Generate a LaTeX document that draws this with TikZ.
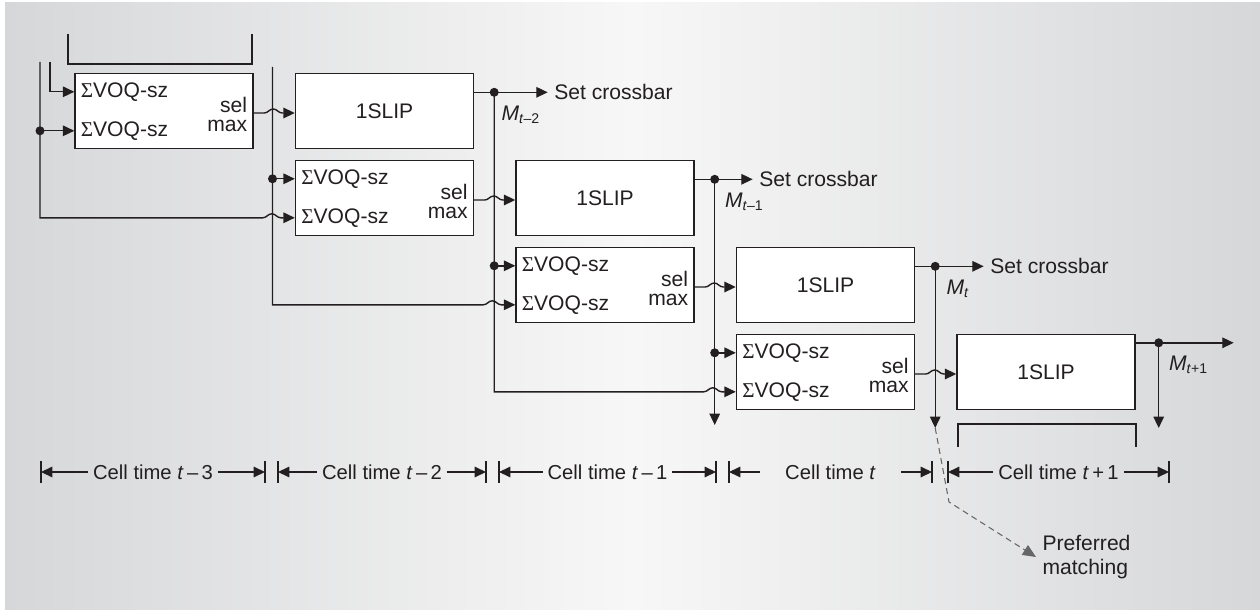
\documentclass[tikz,border=0pt]{standalone}
\usepackage{fontspec}
\setmainfont{Liberation Sans}
\newfontfamily\sigfont{Liberation Serif}
\usepackage{tikz}
\usetikzlibrary{arrows.meta, positioning, calc}
\usepackage{xcolor}
\definecolor{inkGray}{HTML}{231F20}
\definecolor{bgEdge}{HTML}{D6D7D9}
\definecolor{bgMid}{HTML}{F7F7F7}
\definecolor{ptrGray}{HTML}{666666}

\newcommand{\vsz}{{\sigfont Σ}VOQ-sz}
\newcommand{\hop}{to[out=0,in=180] ++(9,-4) to[out=0,in=180] ++(9,4)}

\tikzset{
    feed/.style={line width=0.8pt, -{Triangle[length=6.5pt, width=6pt]}},
    box/.style={draw, fill=white, line width=0.8pt, minimum width=35.6mm, minimum height=15mm, inner sep=0pt},
    dot/.style={circle, fill, inner sep=0pt, minimum size=1.8mm},
    lbl/.style={inner sep=1pt},
    cellspan/.style={inner xsep=2.5pt, font=\fontsize{11.5}{14}\selectfont},
    cellbar/.style={line width=0.8pt},
    pointer/.style={ptrGray, line width=0.6pt, dash pattern=on 3.4pt off 2.4pt, -{Triangle[length=7.5pt, width=6.5pt]}}
}

\begin{document}
\begin{tikzpicture}[x=0.2mm, y=-0.2mm, color=inkGray, line width=0.8pt, font=\fontsize{12}{14}\selectfont]
    % Background
    \useasboundingbox (0,0) rectangle (1260,610);
    \shade[left color=bgEdge, right color=bgEdge, middle color=bgMid] (5,3) rectangle (1260,610);

    % Stages
    \foreach \k in {0,...,3} {
        \node[box] (sel\k) at (164+220.5*\k, 111+87*\k) {};
        \node[box] (slip\k) at (384.5+220.5*\k, 111+87*\k) {1SLIP};
        \coordinate (sel\k-a) at ($(sel\k.north west)+(0,19)$);
        \coordinate (sel\k-b) at ($(sel\k.north west)+(0,58)$);
        \coordinate (sel\k-o) at ($(sel\k.east)+(0,2)$);
        \node[anchor=west] (sz\k a) at (sel\k-a) {\vsz};
        \node[anchor=west] (sz\k b) at (sel\k-b) {\vsz};
        \node[anchor=east, align=right, font=\fontsize{12}{10.5}\selectfont] (selmax\k) at ($(sel\k.east)+(0,3.5)$) {sel\\max};
        \draw[feed] (sel\k-o) -- ++(10.5,0) \hop -- (slip\k.west |- sel\k-o);
    }

    % Brackets (previous / next stage)
    \draw (68,34) -- (68,64) -- (252,64) -- (252,34);
    \draw (958,447) -- (958,424) -- (1136,424) -- (1136,447);

    % 1SLIP outputs
    \coordinate (slip0-o) at ($(slip0.north east)+(0,19.5)$);
    \coordinate (slip1-o) at ($(slip1.north east)+(0,19.5)$);
    \coordinate (slip2-o) at ($(slip2.north east)+(0,19.5)$);
    \coordinate (slip3-o) at ($(slip3.north east)+(0,9)$);
    \node[dot] (d0) at ($(slip0-o)+(20,0)$) {};
    \node[dot] (d1) at ($(slip1-o)+(20,0)$) {};
    \node[dot] (d2) at ($(slip2-o)+(20,0)$) {};
    \node[dot] (d3) at ($(slip3-o)+(23,0)$) {};
    \node[anchor=west] (xbar0) at ($(d0)+(53.5,0)$) {Set crossbar};
    \node[anchor=west] (xbar1) at ($(d1)+(38,0)$) {Set crossbar};
    \node[anchor=west] (xbar2) at ($(d2)+(48.5,0)$) {Set crossbar};
    \coordinate (out3) at ($(d3)+(75,0)$);
    \draw[feed] (slip0-o) -- (d0.center) -- (xbar0.west);
    \draw[feed] (slip1-o) -- (d1.center) -- (xbar1.west);
    \draw[feed] (slip2-o) -- (d2.center) -- (xbar2.west);
    \draw[feed] (slip3-o) -- (d3.center) -- (out3);
    \node[lbl, anchor=north west] (m0) at ($(d0)+(5,11)$) {\textit{M}\textsubscript{\textit{t}–2}};
    \node[lbl, anchor=north west] (m1) at ($(d1)+(8,11)$) {\textit{M}\textsubscript{\textit{t}–1}};
    \node[lbl, anchor=north west] (m2) at ($(d2)+(9,11)$) {\textit{M}\textsubscript{\textit{t}}};
    \node[lbl, anchor=north west] (m3) at ($(d3)+(8,11)$) {\textit{M}\textsubscript{\textit{t}+1}};

    % Feedback columns
    \coordinate (feedA) at (40,62);
    \coordinate (feedB) at (50,62);
    \coordinate (feedC) at (272.5,67);
    \draw[feed] (feedA) -- (feedA |- sel1-b) -- ($(sel1-b)+(-32,0)$) \hop -- (sel1-b);
    \node[dot] (j0) at (feedA |- sel0-b) {};
    \draw[feed] (j0.center) -- (sel0-b);
    \draw[feed] (feedB) -- (feedB |- sel0-a) -- (sel0-a);
    \draw[feed] (feedC) -- (feedC |- sel2-b) -- ($(sel2-b)+(-32,0)$) \hop -- (sel2-b);
    \node[dot] (j1) at (feedC |- sel1-a) {};
    \draw[feed] (j1.center) -- (sel1-a);
    \draw[feed] (d0.center) -- (d0 |- sel3-b) -- ($(sel3-b)+(-32,0)$) \hop -- (sel3-b);
    \node[dot] (j2) at (d0 |- sel2-a) {};
    \draw[feed] (j2.center) -- (sel2-a);
    \node[dot] (j3) at (d1 |- sel3-a) {};
    \draw[feed] (j3.center) -- (sel3-a);
    \coordinate (d1end) at (d1 |- 0,425);
    \coordinate (d2end) at (d2 |- 0,428);
    \coordinate (d3end) at (d3 |- 0,428);
    \draw[feed] (d1.center) -- (d1end);
    \draw[feed] (d2.center) -- (d2end);
    \draw[feed] (d3.center) -- (d3end);

    % Cell times
    \foreach \a/\b/\w/\txt [count=\i] in {
        41/265/0pt/{Cell time \textit{t}\,–\,3},
        278/486/0pt/{Cell time \textit{t}\,–\,2},
        499/716/0pt/{Cell time \textit{t}\,–\,1},
        729/932/28mm/{Cell time \textit{t}},
        948/1169/0pt/{Cell time \textit{t}\,+\,1}} {
        \draw[cellbar] (\a,461) -- (\a,483);
        \draw[cellbar] (\b,461) -- (\b,483);
        \node[cellspan, minimum width=\w] (cell\i) at ({(\a+\b)/2},472) {\txt};
        \draw[feed] (cell\i.west) -- (\a,472);
        \draw[feed] (cell\i.east) -- (\b,472);
    }

    % Preferred matching
    \node[anchor=west, align=left] (pref) at (1036,557) {Preferred\\matching};
    \coordinate (bend) at (949,502);
    \draw[pointer] (d2end) -- (bend) -- (pref.west);
\end{tikzpicture}
\end{document}
